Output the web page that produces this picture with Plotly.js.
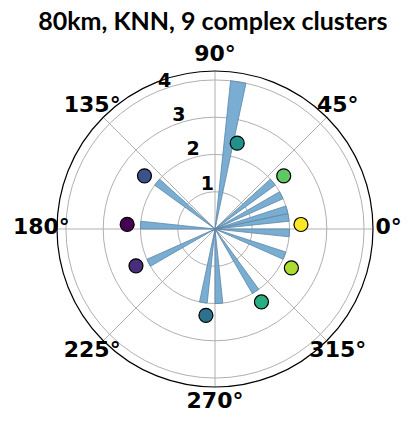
<!DOCTYPE html>
<html>
<head>
<meta charset="utf-8">
<script src="https://cdn.plot.ly/plotly-3.0.1.min.js"></script>
<style>
  html, body { margin: 0; padding: 0; background: #fff; }
  #chart { width: 415px; height: 425px; }
</style>
</head>
<body>
<div id="chart"></div>
<script>
// histogram bins (degrees) and counts
const binAngles = [9, 15, 27, 39, 81, 141, 177, 207, 261, 273, 303, 339, 357];
const binCounts = [2, 2, 2, 2, 4, 2, 2, 2, 2, 2, 2, 2, 2];
const binWidth = 6;

// cluster centres
const clusterAngles = [177, 205, 143, 264, 75.5, 302.5, 37.7, 333, 3];
const clusterR = [2.36, 2.34, 2.37, 2.33, 2.38, 2.32, 2.33, 2.3, 2.31];
const clusterColors = ['#440154', '#472d7b', '#3b528b', '#2c728e', '#21918c',
                       '#28ae80', '#5ec962', '#addc30', '#fde725'];

const angleTicks = [0, 45, 90, 135, 180, 225, 270, 315];
const radialTicks = [1, 2, 3, 4];
const rMax = 4.24;
const rOuter = 5.0;        // invisible outer polar that holds the angle labels
const labelR = 4.66;
const rLabelAngle = 112.5;

const boldFont = (size) => ({family: 'DejaVu Sans', size: size, color: '#000', weight: 'bold'});

const traces = [{
    type: 'barpolar',
    theta: binAngles,
    r: binCounts,
    width: binAngles.map(() => binWidth),
    marker: {color: '#79add2', line: {color: '#5d87a8', width: 0.8}},
    showlegend: false
}, {
    type: 'scatterpolar',
    mode: 'markers',
    theta: clusterAngles,
    r: clusterR,
    marker: {size: 14, color: clusterColors, line: {color: '#000', width: 1.2}},
    showlegend: false
}, {
    type: 'scatterpolar',
    mode: 'text',
    theta: radialTicks.map(() => rLabelAngle),
    r: radialTicks,
    text: radialTicks.map(String),
    textposition: 'top right',
    textfont: boldFont(19),
    cliponaxis: false,
    showlegend: false,
    hoverinfo: 'skip'
}, {
    type: 'scatterpolar',
    subplot: 'polar2',
    mode: 'text',
    theta: angleTicks,
    r: angleTicks.map(() => labelR),
    text: angleTicks.map(a => a + '°'),
    textposition: 'middle center',
    textfont: boldFont(22),
    cliponaxis: false,
    showlegend: false,
    hoverinfo: 'skip'
}];

// centre (215, 229) px, outer ring 158 px
const cx = 215, cy = 229, R = 158, W = 415, H = 425;
const domainFor = (rad) => ({
    x: [(cx - rad) / W, (cx + rad) / W],
    y: [(H - cy - rad) / H, (H - cy + rad) / H]
});

const hiddenAxis = {showgrid: false, showline: false, showticklabels: false, ticks: ''};

const layout = {
    width: W,
    height: H,
    margin: {l: 0, r: 0, t: 0, b: 0},
    paper_bgcolor: '#fff',
    title: {
        text: '<b>80km, KNN, 9 complex clusters</b>',
        font: {family: 'Lato', size: 25, color: '#000'},
        x: 0.513, xanchor: 'center', y: 0.95, yanchor: 'middle'
    },
    polar: {
        bgcolor: '#fff',
        domain: domainFor(R),
        angularaxis: {
            direction: 'counterclockwise',
            rotation: 0,
            tickmode: 'array',
            tickvals: angleTicks,
            showticklabels: false,
            ticks: '',
            showline: true,
            linecolor: '#000',
            linewidth: 1.2,
            gridcolor: '#b0b0b0',
            gridwidth: 1
        },
        radialaxis: {
            range: [0, rMax],
            tickmode: 'array',
            tickvals: radialTicks,
            showticklabels: false,
            showline: false,
            ticks: '',
            gridcolor: '#b0b0b0',
            gridwidth: 1
        }
    },
    polar2: {
        bgcolor: 'rgba(0,0,0,0)',
        domain: domainFor(R * rOuter / rMax),
        angularaxis: Object.assign({direction: 'counterclockwise', rotation: 0}, hiddenAxis),
        radialaxis: Object.assign({range: [0, rOuter]}, hiddenAxis)
    }
};

Plotly.newPlot('chart', traces, layout, {displayModeBar: false, staticPlot: true});
</script>
</body>
</html>
